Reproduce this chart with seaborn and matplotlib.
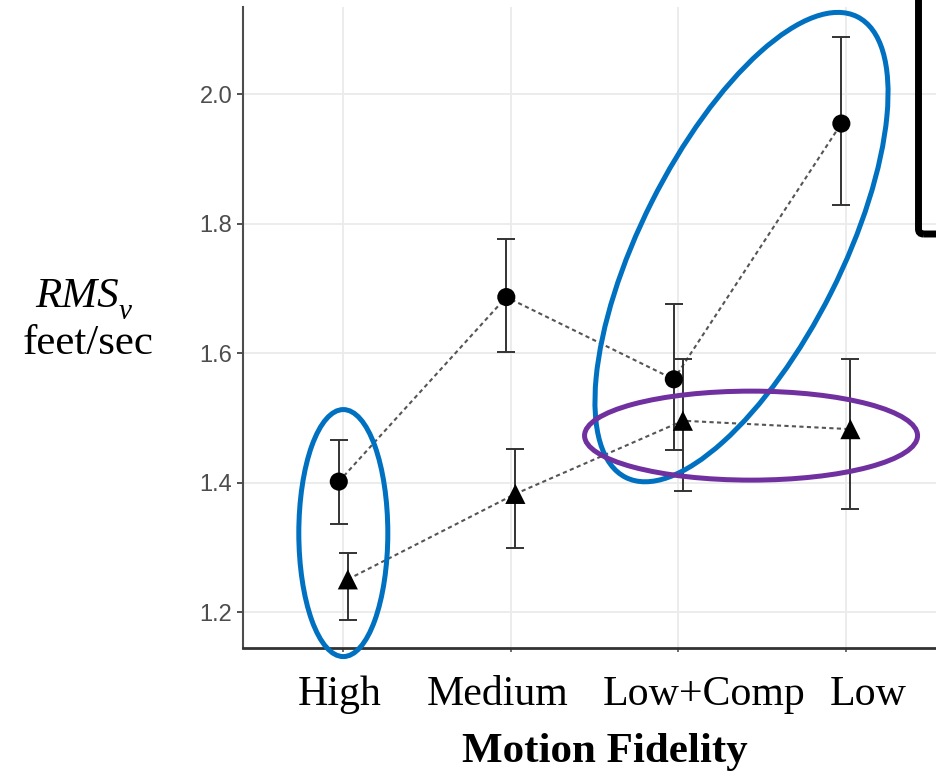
import matplotlib
matplotlib.use("Agg")
import pandas as pd
import matplotlib.pyplot as plt
import seaborn as sns
from matplotlib.patches import Ellipse, FancyBboxPatch
from matplotlib.transforms import (ScaledTranslation, IdentityTransform,
                                   blended_transform_factory)

# Motion-fidelity conditions along the x axis
fidelity = ["High", "Medium", "Low+Comp", "Low"]

# RMS velocity error (feet/sec): means and error-bar ends, two groups
circle_mean = [1.402, 1.687, 1.560, 1.955]
circle_low = [1.336, 1.602, 1.451, 1.829]
circle_high = [1.466, 1.776, 1.676, 2.088]

triangle_mean = [1.251, 1.383, 1.496, 1.483]
triangle_low = [1.188, 1.299, 1.387, 1.360]
triangle_high = [1.291, 1.452, 1.591, 1.592]

y_ticks = [1.2, 1.4, 1.6, 1.8, 2.0]

W, H, DPI = 936, 778, 100


def fx(px):
    return px / W


def fy(py):
    return 1 - py / H


sns.set_theme(style="white")
plt.rcParams["font.family"] = ["Liberation Serif", "DejaVu Serif"]

# long table; the two groups are dodged slightly around each category
dodge = {"circle": -0.027, "triangle": 0.027}
rows = []
for series, mean, lo, hi in [("circle", circle_mean, circle_low, circle_high),
                             ("triangle", triangle_mean, triangle_low, triangle_high)]:
    for i, cat in enumerate(fidelity):
        rows.append(dict(fidelity=cat, series=series, pos=i + dodge[series],
                         rms=mean[i], lo=lo[i], hi=hi[i]))
df = pd.DataFrame(rows)

fig = plt.figure(figsize=(W / DPI, H / DPI), dpi=DPI, facecolor="white")
ax = fig.add_axes([fx(243.3), fy(648), fx(936) - fx(243.3), fy(7) - fy(648)])
ax.set_xlim(-0.597, 3.538)
ax.set_ylim(1.145, 2.135)

ax.set_xticks(range(len(fidelity)))
ax.set_yticks(y_ticks)
ax.set_yticklabels([f"{t:.1f}" for t in y_ticks], fontfamily="Liberation Sans")
ax.grid(True, color="#EBEBEB", linewidth=1.3)
ax.set_axisbelow(True)

# dashed connectors within each group
sns.lineplot(data=df, x="pos", y="rms", hue="series",
             palette={"circle": "#555555", "triangle": "#555555"},
             estimator=None, legend=False, linewidth=1.5,
             linestyle=(0, (2.0, 1.6)), ax=ax, zorder=2)

# error bars
ax.errorbar(df["pos"], df["rms"], yerr=[df["rms"] - df["lo"], df["hi"] - df["rms"]],
            fmt="none", ecolor="#333333", elinewidth=1.4, capsize=6.4,
            capthick=1.4, zorder=3)

# group means
circ = df[df["series"] == "circle"]
tri = df[df["series"] == "triangle"]
sns.scatterplot(data=circ, x="pos", y="rms", marker="o", s=170, color="black",
                edgecolor="none", linewidth=0, legend=False, ax=ax, zorder=4)
sns.scatterplot(data=tri, x="pos", y="rms", marker="^", s=210, color="black",
                edgecolor="none", linewidth=0, legend=False, ax=ax, zorder=4)

ax.set_xlabel("")
ax.set_ylabel("")
for side in ("top", "right"):
    ax.spines[side].set_visible(False)
ax.spines["left"].set_color("#4d4d4d")
ax.spines["left"].set_linewidth(1.5)
ax.spines["bottom"].set_color("#333333")
ax.spines["bottom"].set_linewidth(2.0)

ax.tick_params(axis="y", left=True, length=4.5, width=1.2, color="#333333",
               pad=3.5, labelsize=17, labelcolor="#4d4d4d")
ax.tick_params(axis="x", bottom=True, length=3, width=1.2, color="#555555",
               labelbottom=False)

# category names set under the axis
label_shift_px = [-3.8, -13.2, 26.0, 22.3]
base = blended_transform_factory(ax.transData, ax.transAxes)
for i, (cat, dx) in enumerate(zip(fidelity, label_shift_px)):
    tr = base + ScaledTranslation(dx / DPI, -57 / DPI, fig.dpi_scale_trans)
    ax.text(i, 0, cat, transform=tr, ha="center", va="baseline",
            fontsize=30.2, color="black", clip_on=False)

fig.text(fx(604.5), fy(762), "Motion Fidelity", ha="center", va="baseline",
         fontsize=31, fontweight="bold", color="black")

# y-axis title: RMS with italic subscript v, units underneath
fig.text(fx(35), fy(307), "RMS", ha="left", va="baseline",
         fontsize=31, fontstyle="italic", color="black")
fig.text(fx(119), fy(319), "v", ha="left", va="baseline",
         fontsize=21, fontstyle="italic", color="black")
fig.text(fx(88), fy(354), "feet/sec", ha="center", va="baseline",
         fontsize=31, color="black")


# highlight rings, centred in data space, sized in pixels
def add_ring(xd, yd, w_px, h_px, angle, color):
    tr = fig.dpi_scale_trans + ScaledTranslation(xd, yd, ax.transData)
    ring = Ellipse((0, 0), w_px / DPI, h_px / DPI, angle=angle, transform=tr,
                   fill=False, edgecolor=color, linewidth=3.6, zorder=6)
    fig.add_artist(ring)


add_ring(0.0, 1.3225, 89, 247, 0, "#0070C0")
add_ring(2.377, 1.7642, 515.6, 201, 63.3, "#0070C0")
add_ring(2.434, 1.473, 333, 89, 0, "#7030A0")

# frame of the key panel at the upper right
frame = FancyBboxPatch((918.5, H - 234), 300, 500,
                       boxstyle="round,pad=0,rounding_size=5",
                       transform=IdentityTransform(), fill=False,
                       edgecolor="black", linewidth=5, zorder=7)
fig.add_artist(frame)

fig.savefig("out.png", dpi=DPI, facecolor="white")
